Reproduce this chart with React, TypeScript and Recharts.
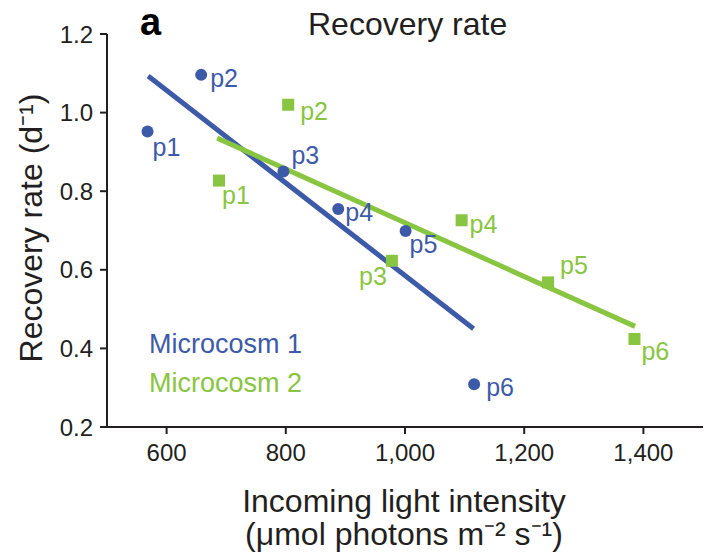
import { ScatterChart, Scatter, XAxis, YAxis } from 'recharts'

// measured light intensity (µmol photons m-2 s-1) and recovery rate (d-1)
const pointNames = ['p1', 'p2', 'p3', 'p4', 'p5', 'p6']
const m1Light = [568, 658, 796, 888, 1001, 1116]
const m1Rate = [0.952, 1.096, 0.85, 0.755, 0.699, 0.309]
const m2Light = [688, 804, 978, 1095, 1240, 1385]
const m2Rate = [0.827, 1.02, 0.623, 0.726, 0.568, 0.424]

// fitted lines (end points)
const fit1Light = [569, 1115]
const fit1Rate = [1.093, 0.45]
const fit2Light = [685, 1386]
const fit2Rate = [0.935, 0.456]

const xTicks = [600, 800, 1000, 1200, 1400]
const yTicks = [0.2, 0.4, 0.6, 0.8, 1.0, 1.2]

const BLUE = '#3D5AA8'
const GREEN = '#88C540'
const INK = '#231F20'
const FONT = '"Liberation Sans", Arial, Helvetica, sans-serif'

// where each p-label sits relative to its marker: [dx, dy, anchor]
const blueLabelPos: [number, number, string][] = [
  [5, 25, 'start'],
  [9, 12, 'start'],
  [8, -8, 'start'],
  [7, 12, 'start'],
  [4, 22, 'start'],
  [12, 12, 'start'],
]
const greenLabelPos: [number, number, string][] = [
  [3, 23, 'start'],
  [12, 15, 'start'],
  [-5, 24, 'end'],
  [8, 13, 'start'],
  [12, -8, 'start'],
  [7, 21, 'start'],
]

const toPoints = (xs: number[], ys: number[]) =>
  xs.map((x, i) => ({ x, y: ys[i], name: pointNames[i], i }))

const m1Data = toPoints(m1Light, m1Rate)
const m2Data = toPoints(m2Light, m2Rate)
const fit1Data = fit1Light.map((x, i) => ({ x, y: fit1Rate[i] }))
const fit2Data = fit2Light.map((x, i) => ({ x, y: fit2Rate[i] }))

const CircleMark = (props: any) => {
  const { cx, cy, payload } = props
  const [dx, dy, anchor] = blueLabelPos[payload.i]
  return (
    <g>
      <circle cx={cx} cy={cy} r={6} fill={BLUE} />
      <text x={cx + dx} y={cy + dy} fill={BLUE} fontSize={25} fontFamily={FONT} textAnchor={anchor}>
        {payload.name}
      </text>
    </g>
  )
}

const SquareMark = (props: any) => {
  const { cx, cy, payload } = props
  const [dx, dy, anchor] = greenLabelPos[payload.i]
  return (
    <g>
      <rect x={cx - 6} y={cy - 6} width={12} height={12} fill={GREEN} />
      <text x={cx + dx} y={cy + dy} fill={GREEN} fontSize={25} fontFamily={FONT} textAnchor={anchor}>
        {payload.name}
      </text>
    </g>
  )
}

const NoMark = () => <g />

export default function App() {
  return (
    <div style={{ position: 'absolute', left: 0, top: 0, background: '#fff' }}>
      <ScatterChart
        width={705}
        height={557}
        margin={{ top: 34, right: 2, left: 0, bottom: 0 }}
        style={{ fontFamily: FONT }}
      >
        <XAxis
          type="number"
          dataKey="x"
          domain={[500, 1500]}
          ticks={xTicks}
          allowDataOverflow
          tickFormatter={(v) => v.toLocaleString('en-US')}
          axisLine={{ stroke: INK, strokeWidth: 2 }}
          tickLine={{ stroke: INK, strokeWidth: 2 }}
          tickSize={7}
          tickMargin={10}
          tick={{ fill: INK, fontSize: 24, fontFamily: FONT }}
          height={130}
        />
        <YAxis
          type="number"
          dataKey="y"
          domain={[0.2, 1.2]}
          ticks={yTicks}
          allowDataOverflow
          tickFormatter={(v) => v.toFixed(1)}
          axisLine={{ stroke: INK, strokeWidth: 2 }}
          tickLine={{ stroke: INK, strokeWidth: 2 }}
          tickSize={7}
          tickMargin={7}
          tick={{ fill: INK, fontSize: 24, fontFamily: FONT }}
          width={107}
        />
        <Scatter
          data={fit1Data}
          line={{ stroke: BLUE, strokeWidth: 5 }}
          shape={NoMark}
          isAnimationActive={false}
        />
        <Scatter
          data={fit2Data}
          line={{ stroke: GREEN, strokeWidth: 5 }}
          shape={NoMark}
          isAnimationActive={false}
        />
        <Scatter data={m1Data} shape={CircleMark} isAnimationActive={false} />
        <Scatter data={m2Data} shape={SquareMark} isAnimationActive={false} />

        {/* panel letter and title */}
        <text x={140} y={35} fontSize={38} fontWeight="bold" fill="#000" fontFamily={FONT}>
          a
        </text>
        <text x={308} y={35} fontSize={32} fill={INK} fontFamily={FONT}>
          Recovery rate
        </text>

        {/* legend */}
        <text x={149} y={353} fontSize={27} fill={BLUE} fontFamily={FONT}>
          Microcosm 1
        </text>
        <text x={149} y={392} fontSize={27} fill={GREEN} fontFamily={FONT}>
          Microcosm 2
        </text>

        {/* axis titles */}
        <text
          transform="translate(42, 228) rotate(-90)"
          textAnchor="middle"
          fontSize={32}
          fill={INK}
          fontFamily={FONT}
        >
          Recovery rate (d⁻¹)
        </text>
        <text x={404} y={512} textAnchor="middle" fontSize={32} fill={INK} fontFamily={FONT}>
          Incoming light intensity
        </text>
        <text x={404} y={545} textAnchor="middle" fontSize={32} fill={INK} fontFamily={FONT}>
          (μmol photons m⁻² s⁻¹)
        </text>
      </ScatterChart>
    </div>
  )
}
